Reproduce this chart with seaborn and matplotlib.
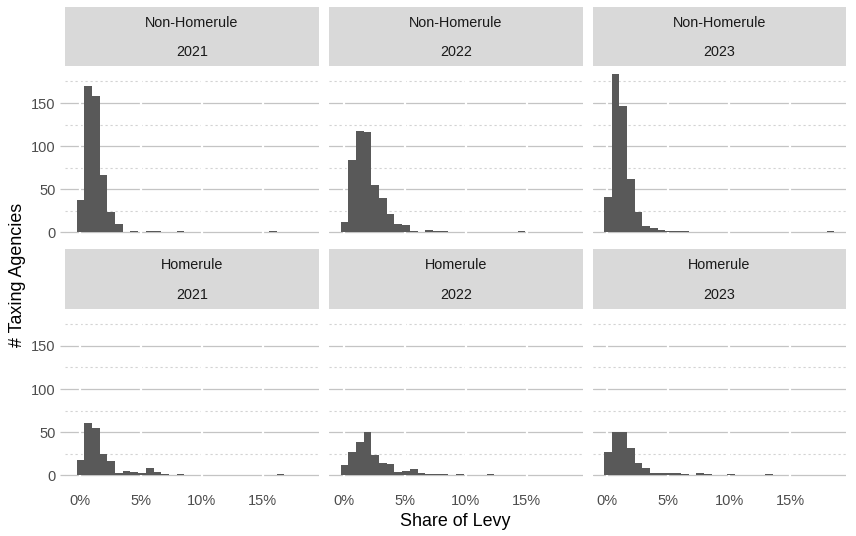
import numpy as np
import pandas as pd
import matplotlib
matplotlib.use("Agg")
import matplotlib.pyplot as plt
from matplotlib.ticker import PercentFormatter
import seaborn as sns

# histogram counts, 30 bins per panel
groups = ["Non-Homerule", "Homerule"]
years = ["2021", "2022", "2023"]

nh_2021 = [37, 170, 158, 66, 23, 10, 0, 2, 0, 1, 1, 0, 0, 1, 0,
           0, 0, 0, 0, 0, 0, 0, 0, 0, 0, 1, 0, 0, 0, 0]
nh_2022 = [12, 84, 118, 116, 55, 40, 21, 10, 8, 1, 0, 3, 1, 1, 0,
           0, 0, 0, 0, 0, 0, 0, 0, 1, 0, 0, 0, 0, 0, 0]
nh_2023 = [41, 184, 147, 62, 24, 7, 5, 3, 1, 1, 2, 0, 0, 0, 0,
           0, 0, 0, 0, 0, 0, 0, 0, 0, 0, 0, 0, 0, 0, 1]
hr_2021 = [17, 60, 55, 25, 16, 2, 5, 4, 2, 8, 3, 1, 0, 1, 0,
           0, 0, 0, 0, 0, 0, 0, 0, 0, 0, 0, 1, 0, 0, 0]
hr_2022 = [12, 27, 39, 50, 23, 14, 13, 4, 5, 7, 2, 1, 1, 1, 0,
           1, 0, 0, 0, 1, 0, 0, 0, 0, 0, 0, 0, 0, 0, 0]
hr_2023 = [27, 50, 50, 31, 14, 8, 2, 2, 2, 2, 1, 0, 2, 1, 0,
           0, 1, 0, 0, 0, 0, 1, 0, 0, 0, 0, 0, 0, 0, 0]

counts = {
    ("Non-Homerule", "2021"): nh_2021,
    ("Non-Homerule", "2022"): nh_2022,
    ("Non-Homerule", "2023"): nh_2023,
    ("Homerule", "2021"): hr_2021,
    ("Homerule", "2022"): hr_2022,
    ("Homerule", "2023"): hr_2023,
}

bin_start = -0.0028
bin_width = 0.00631
n_bins = 30
x_ticks = [0, 0.05, 0.10, 0.15]
y_major = [0, 50, 100, 150]
y_minor = [25, 75, 125, 175]

edges = bin_start + bin_width * np.arange(n_bins + 1)
centers = (edges[:-1] + edges[1:]) / 2

rows = []
for (grp, yr), vals in counts.items():
    for c, v in zip(centers, vals):
        rows.append({"group": grp, "year": yr, "share": c, "n": v})
df = pd.DataFrame(rows)

sns.set_theme(style="white")
plt.rcParams["font.family"] = ["Liberation Sans", "DejaVu Sans"]

W, H = 856, 536
fig = plt.figure(figsize=(W / 100, H / 100), dpi=100)

col_x = [(65, 319), (329, 583), (592.5, 846)]
row_y = [((6.7, 65.8), (65.8, 240.2)), ((249, 308.8), (308.8, 483))]

x_lo = edges[0] - 0.05 * (edges[-1] - edges[0])
x_hi = edges[-1] + 0.05 * (edges[-1] - edges[0])
ymax = max(max(v) for v in counts.values())
y_lim = (-0.05 * ymax, 1.05 * ymax)

grid_col = "#c4c4c4"
tick_col = "#4d4d4d"

for r, grp in enumerate(groups):
    (s_top, s_bot), (p_top, p_bot) = row_y[r]
    for c, yr in enumerate(years):
        x0, x1 = col_x[c]
        ax = fig.add_axes([x0 / W, 1 - p_bot / H, (x1 - x0) / W, (p_bot - p_top) / H])
        sub = df[(df.group == grp) & (df.year == yr)]
        sns.histplot(data=sub, x="share", weights="n", bins=list(edges), ax=ax,
                     color="#595959", alpha=1, edgecolor="none", linewidth=0,
                     zorder=3)
        for y in y_major:
            ax.axhline(y, color=grid_col, lw=0.9, zorder=0)
        for y in y_minor:
            ax.axhline(y, color="#d3d3d3", lw=0.8, ls=(0, (2, 2.5)), zorder=0)
        for xv in x_ticks:
            ax.axvline(xv, color="white", lw=1.6, zorder=1)
        ax.set_xlim(x_lo, x_hi)
        ax.set_ylim(*y_lim)
        ax.set_xticks(x_ticks)
        ax.set_yticks(y_major)
        ax.xaxis.set_major_formatter(PercentFormatter(xmax=1, decimals=0))
        ax.set_xlabel("")
        ax.set_ylabel("")
        for s in ax.spines.values():
            s.set_visible(False)
        ax.tick_params(axis="x", length=0, pad=8, labelsize=10.5,
                       labelcolor=tick_col, labelbottom=(r == 1))
        ax.tick_params(axis="y", length=3.8, width=0.9, color=grid_col, pad=3,
                       labelsize=10.5, labelcolor=tick_col,
                       left=(c == 0), labelleft=(c == 0))

        # facet strip
        sax = fig.add_axes([x0 / W, 1 - s_bot / H, (x1 - x0) / W, (s_bot - s_top) / H])
        sax.set_facecolor("#d9d9d9")
        sax.set_xticks([])
        sax.set_yticks([])
        for s in sax.spines.values():
            s.set_visible(False)
        sax.text(0.5, 0.73, grp, ha="center", va="center", fontsize=10.4,
                 color="#1a1a1a", transform=sax.transAxes)
        sax.text(0.5, 0.23, yr, ha="center", va="center", fontsize=10.4,
                 color="#1a1a1a", transform=sax.transAxes)

fig.text(455 / W, 1 - 521 / H, "Share of Levy", ha="center", va="center",
         fontsize=12.9, color="black")
fig.text(18 / W, 1 - 275 / H, "# Taxing Agencies", ha="center", va="center",
         rotation=90, fontsize=12.9, color="black")

fig.savefig("out.png", dpi=100)
